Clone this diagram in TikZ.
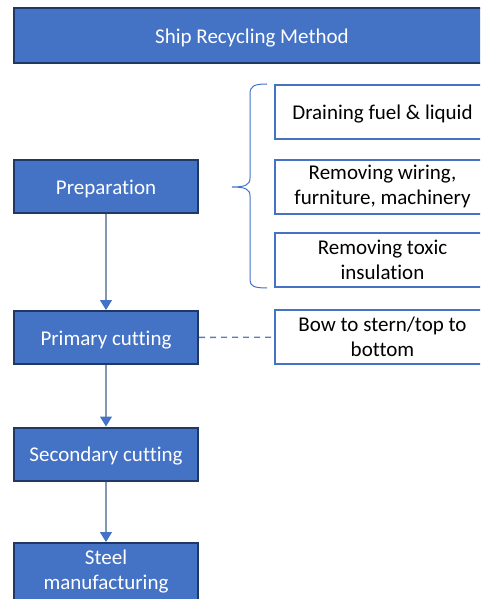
\documentclass[tikz,border=0pt]{standalone}
\usepackage{fontspec}
\setmainfont{Carlito}[Ligatures=CommonOff]
\usetikzlibrary{arrows.meta}
\definecolor{stepblue}{HTML}{4472C4}
\definecolor{stepedge}{HTML}{1F3864}
\definecolor{linkgrey}{HTML}{8497B0}
\begin{document}
\begin{tikzpicture}[x=1pt, y=1pt,
    stepbox/.style={draw=stepedge, line width=2pt, fill=stepblue, text=white,
        minimum width=184pt, minimum height=53pt, align=center, font=\fontsize{21}{25}\selectfont,
        execute at begin node={\rule{0pt}{19pt}}},
    notebox/.style={draw=stepblue, line width=2pt, fill=white,
        minimum width=215pt, minimum height=54pt, align=center, font=\fontsize{21}{25}\selectfont,
        execute at begin node={\rule{0pt}{19pt}}},
    flow/.style={draw=linkgrey, line width=1.2pt, -{Triangle[width=12pt, length=10pt, color=stepblue]}}]
    \useasboundingbox (0,0) rectangle (480,-599);
    \clip (0,0) rectangle (480,-599);
    % title bar
    \node[stepbox, minimum width=476pt, minimum height=55pt] (title) at (252,-35.5) {Ship Recycling Method};

    % main steps
    \node[stepbox] (prep) at (106,-186.5) {Preparation};
    \node[stepbox] (primary) at (106,-337.5) {Primary cutting};
    \node[stepbox] (secondary) at (106,-454) {Secondary cutting};
    \node[stepbox, minimum height=58pt] (steel) at (106,-572) {Steel\\manufacturing};

    % side notes
    \node[notebox] (drain) at (382.5,-112) {Draining fuel \& liquid};
    \node[notebox] (wiring) at (382.5,-186.5) {Removing wiring,\\furniture, machinery};
    \node[notebox] (toxic) at (382.5,-259.5) {Removing toxic\\insulation};
    \node[notebox] (bow) at (382.5,-337) {Bow to stern/top to\\bottom};

    \draw[flow] (prep) -- (primary);
    \draw[flow] (primary) -- (secondary);
    \draw[flow] (secondary) -- (steel);
    \draw[stepblue!70!linkgrey, line width=1.4pt, dash pattern=on 6pt off 5pt] (primary) -- (bow);

    % brace round the preparation tasks
    \draw[stepblue, line width=1pt] (267,-84) .. controls (254,-84) and (250,-86) .. (250,-94)
        -- (250,-178) .. controls (250,-185) and (245,-187) .. (232,-187)
        .. controls (245,-187) and (250,-189) .. (250,-196)
        -- (250,-280) .. controls (250,-286) and (254,-288) .. (267,-288);
\end{tikzpicture}
\end{document}
